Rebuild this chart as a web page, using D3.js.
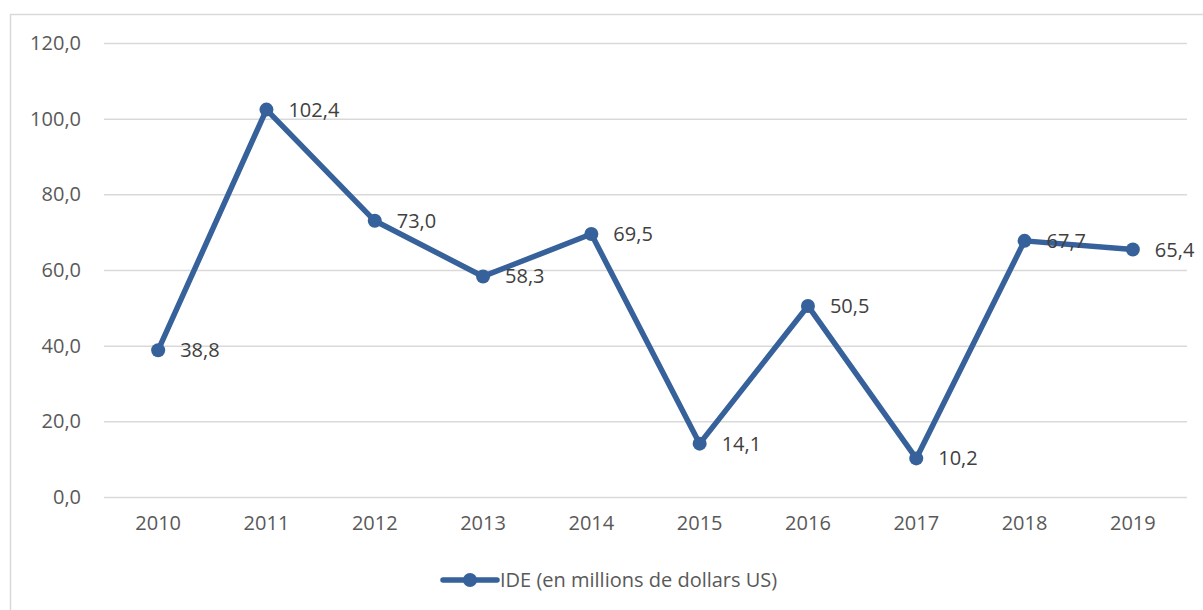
<!DOCTYPE html>
<html lang="fr">
<head>
    <meta charset="UTF-8">
    <title>IDE</title>
    <script src="https://d3js.org/d3.v7.min.js"></script>
    <style>
        body { margin: 0; background: #fff; }
        svg text { font-family: "Open Sans", sans-serif; }
        .tick text { fill: #595959; font-size: 20px; }
        .lbl { fill: #404040; font-size: 20px; }
        .legend text { fill: #595959; font-size: 20px; }
    </style>
</head>
<body>
<svg width="1203" height="610"></svg>
<script>
    const years = ["2010", "2011", "2012", "2013", "2014", "2015", "2016", "2017", "2018", "2019"];
    const ide = [38.8, 102.4, 73.0, 58.3, 69.5, 14.1, 50.5, 10.2, 67.7, 65.4];
    const yTicks = [0, 20, 40, 60, 80, 100, 120];
    const seriesName = "IDE (en millions de dollars US)";

    const svg = d3.select("svg");
    const margin = { top: 43, left: 104, right: 16, bottom: 113 };
    const width = 1203, height = 610;
    const color = "#36619a";
    const fmt = v => v.toFixed(1).replace(".", ",");

    // chart frame
    svg.append("rect")
        .attr("x", 10.5).attr("y", 14.5)
        .attr("width", 1203).attr("height", 700)
        .attr("fill", "none").attr("stroke", "#d9d9d9").attr("stroke-width", 1.5);

    const x = d3.scaleBand().domain(years).range([margin.left, width - margin.right]);
    const y = d3.scaleLinear().domain([0, 120]).range([height - margin.bottom, margin.top]);

    // gridlines + y labels
    const yAxis = svg.append("g")
        .attr("transform", `translate(${margin.left},0)`)
        .call(d3.axisLeft(y).tickValues(yTicks).tickFormat(fmt)
            .tickSize(-(width - margin.left - margin.right)).tickPadding(23));
    yAxis.select(".domain").remove();
    yAxis.selectAll(".tick line").attr("stroke", "#d9d9d9").attr("stroke-width", 1.5);

    const xAxis = svg.append("g")
        .attr("transform", `translate(0,${y(0)})`)
        .call(d3.axisBottom(x).tickSize(0).tickPadding(19));
    xAxis.select(".domain").remove();

    const cx = d => x(d) + x.bandwidth() / 2;
    const pts = years.map((yr, i) => ({ yr, v: ide[i] }));

    svg.append("path")
        .datum(pts)
        .attr("fill", "none")
        .attr("stroke", color)
        .attr("stroke-width", 5.5)
        .attr("stroke-linejoin", "round")
        .attr("d", d3.line().x(d => cx(d.yr)).y(d => y(d.v)));

    svg.selectAll(".dot").data(pts).enter().append("circle")
        .attr("cx", d => cx(d.yr)).attr("cy", d => y(d.v))
        .attr("r", 7).attr("fill", color);

    svg.selectAll(".lbl").data(pts).enter().append("text")
        .attr("class", "lbl")
        .attr("x", d => cx(d.yr) + 22).attr("y", d => y(d.v))
        .attr("dy", "0.35em")
        .text(d => fmt(d.v));

    // legend
    const lg = svg.append("g").attr("class", "legend").attr("transform", "translate(441,580)");
    lg.append("line").attr("x1", 2).attr("x2", 56).attr("y1", 0).attr("y2", 0)
        .attr("stroke", color).attr("stroke-width", 5.5).attr("stroke-linecap", "round");
    lg.append("circle").attr("cx", 29).attr("cy", 0).attr("r", 7).attr("fill", color);
    lg.append("text").attr("x", 59).attr("y", 0).attr("dy", "0.35em").text(seriesName);
</script>
</body>
</html>
